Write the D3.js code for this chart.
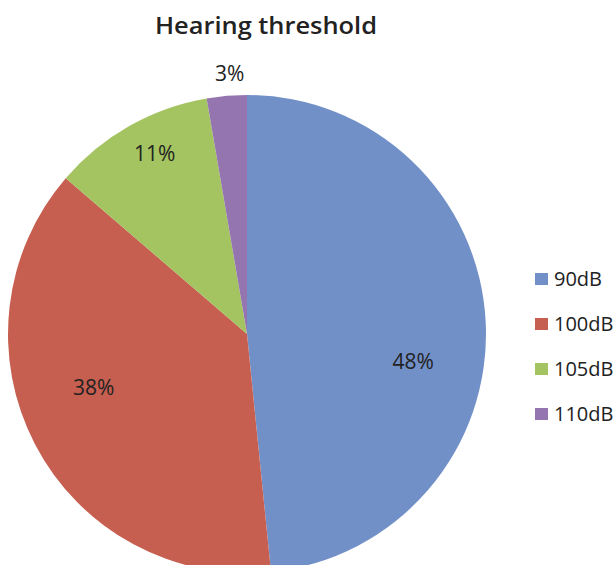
<!DOCTYPE html>
<html>
<head>
<meta charset="utf-8">
<script src="https://cdn.jsdelivr.net/npm/d3@7"></script>
<style>
  body { margin: 0; background: #fff; }
  text { font-family: "Open Sans", Lato, sans-serif; }
</style>
</head>
<body>
<script>
const categories = ['90dB', '100dB', '105dB', '110dB'];
const values = [48.4, 37.9, 11.0, 2.7];
const colors = ['#7290C8', '#C75F51', '#A4C461', '#9575B0'];
// label nudges (px) from the default label position, per slice
const labelNudge = [[-1, 36], [-5, -24], [-10, -35], [5, 1]];

const svg = d3.select('body').append('svg')
  .attr('width', 616)
  .attr('height', 565);

svg.append('text')
  .text('Hearing threshold')
  .attr('x', 266)
  .attr('y', 34)
  .attr('text-anchor', 'middle')
  .attr('textLength', 222)
  .attr('lengthAdjust', 'spacingAndGlyphs')
  .style('font-size', '24px')
  .style('font-weight', '600')
  .attr('fill', '#222');

const cx = 247, cy = 334, r = 239;
const g = svg.append('g').attr('transform', `translate(${cx},${cy})`);

const pie = d3.pie().sort(null).value(d => d.value);
const data = categories.map((c, i) => ({ name: c, value: values[i], color: colors[i], nudge: labelNudge[i] }));
const arcs = pie(data);

const arc = d3.arc().innerRadius(0).outerRadius(r);

g.selectAll('path')
  .data(arcs)
  .enter()
  .append('path')
  .attr('d', arc)
  .attr('fill', d => d.data.color);

const labelArc = d3.arc().innerRadius(r * 0.7).outerRadius(r * 0.7);
const outerArc = d3.arc().innerRadius(r * 1.1).outerRadius(r * 1.1);

g.selectAll('text.lbl')
  .data(arcs)
  .enter()
  .append('text')
  .attr('class', 'lbl')
  .attr('transform', d => {
    const p = d.data.value < 5 ? outerArc.centroid(d) : labelArc.centroid(d);
    return `translate(${p[0] + d.data.nudge[0]},${p[1] + d.data.nudge[1]})`;
  })
  .attr('text-anchor', 'middle')
  .attr('dy', '0.36em')
  .style('font-size', '21px')
  .attr('fill', '#222')
  .text(d => Math.round(d.data.value) + '%');

const legend = svg.append('g').attr('transform', 'translate(535,279)');
const items = legend.selectAll('g')
  .data(data)
  .enter()
  .append('g')
  .attr('transform', (d, i) => `translate(0,${i * 45})`);

items.append('rect')
  .attr('x', 0)
  .attr('y', -6)
  .attr('width', 13)
  .attr('height', 12)
  .attr('fill', d => d.color);

items.append('text')
  .attr('x', 19)
  .attr('y', 0)
  .attr('dy', '0.36em')
  .style('font-size', '20px')
  .attr('fill', '#222')
  .text(d => d.name);
</script>
</body>
</html>
